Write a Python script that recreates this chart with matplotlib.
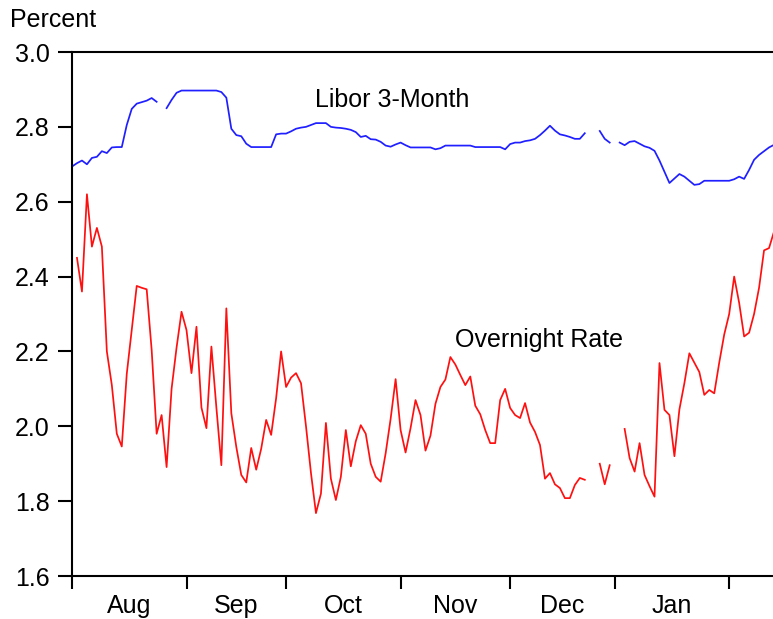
import numpy as np
import pandas as pd
import matplotlib
matplotlib.use("Agg")
import matplotlib.pyplot as plt

plt.rcParams['font.family'] = ['Liberation Sans', 'DejaVu Sans']

nan = np.nan

# one value per weekday starting 2007-08-01
overnight = [
    nan, 2.45, 2.36, 2.62, 2.48, 2.53, 2.48, 2.20, 2.11, 1.98,
    1.946, 2.14, 2.257, 2.375, 2.37, 2.366, 2.204, 1.98, 2.03, 1.891,
    2.10, 2.21, 2.306, 2.257, 2.142, 2.266, 2.05, 1.995, 2.213, 2.05,
    1.896, 2.315, 2.035, 1.945, 1.87, 1.85, 1.942, 1.884, 1.94, 2.017,
    1.977, 2.075, 2.20, 2.105, 2.13, 2.142, 2.115, 2.0, 1.875, 1.768,
    1.82, 2.009, 1.86, 1.803, 1.865, 1.99, 1.893, 1.96, 2.003, 1.98,
    1.90, 1.865, 1.852, 1.928, 2.02, 2.126, 1.99, 1.93, 1.995, 2.07,
    2.03, 1.935, 1.975, 2.06, 2.105, 2.125, 2.185, 2.165, 2.137, 2.11,
    2.133, 2.055, 2.032, 1.99, 1.955, 1.955, 2.07, 2.10, 2.049, 2.03,
    2.022, 2.062, 2.01, 1.985, 1.95, 1.86, 1.875, 1.845, 1.835, 1.808,
    1.808, 1.843, 1.862, 1.857, nan, nan, 1.90, 1.845, 1.896, nan,
    nan, 1.993, 1.915, 1.879, 1.955, 1.87, 1.84, 1.812, 2.169, 2.044,
    2.03, 1.92, 2.045, 2.115, 2.195, 2.17, 2.145, 2.084, 2.097, 2.088,
    2.17, 2.245, 2.30, 2.40, 2.33, 2.24, 2.25, 2.30, 2.37, 2.47,
    2.476, 2.52,
]

libor = [
    2.694, 2.703, 2.71, 2.70, 2.717, 2.72, 2.735, 2.73, 2.745, 2.746,
    2.746, 2.805, 2.848, 2.862, 2.866, 2.87, 2.877, 2.867, nan, 2.85,
    2.872, 2.891, 2.897, 2.897, 2.897, 2.897, 2.897, 2.897, 2.897, 2.897,
    2.893, 2.878, 2.795, 2.778, 2.775, 2.755, 2.746, 2.746, 2.746, 2.746,
    2.746, 2.78, 2.782, 2.782, 2.788, 2.795, 2.798, 2.80, 2.805, 2.81,
    2.81, 2.81, 2.80, 2.798, 2.797, 2.795, 2.792, 2.786, 2.773, 2.776,
    2.767, 2.766, 2.76, 2.75, 2.747, 2.753, 2.758, 2.751, 2.745, 2.745,
    2.745, 2.745, 2.745, 2.74, 2.743, 2.75, 2.75, 2.75, 2.75, 2.75,
    2.75, 2.746, 2.746, 2.746, 2.746, 2.746, 2.746, 2.74, 2.754, 2.758,
    2.758, 2.762, 2.764, 2.768, 2.778, 2.79, 2.803, 2.79, 2.78, 2.777,
    2.773, 2.768, 2.768, 2.783, nan, nan, 2.789, 2.768, 2.758, nan,
    2.758, 2.751, 2.76, 2.762, 2.755, 2.748, 2.744, 2.736, 2.71, 2.68,
    2.65, 2.662, 2.674, 2.667, 2.656, 2.645, 2.647, 2.656, 2.656, 2.656,
    2.656, 2.656, 2.656, 2.66, 2.667, 2.661, 2.685, 2.712, 2.725, 2.735,
    2.745, 2.752,
]

dates = pd.bdate_range('2007-08-01', periods=len(libor))
x = np.arange(len(dates))

# month boundaries (first weekday of each month)
month_start = [i for i in range(len(dates)) if i == 0 or dates[i].month != dates[i - 1].month]
month_names = [dates[i].strftime('%b') for i in month_start]

fs = 18

fig = plt.figure(figsize=(7.73, 6.19), dpi=100)
ax = fig.add_axes([72 / 773, 43 / 619, 701 / 773, 524 / 619])

ax.plot(x, libor, color='#1f1fff', lw=1.25)
ax.plot(x, overnight, color='#ff1010', lw=1.25)

ax.set_xlim(0, 140.8)
ax.set_ylim(1.6, 3.0)
ax.set_yticks(np.arange(1.6, 3.01, 0.2))
ax.set_yticklabels(['%.1f' % v for v in np.arange(1.6, 3.01, 0.2)])

ax.set_xticks(month_start)
ax.set_xticklabels([])
mids = [(month_start[k] + month_start[k + 1]) / 2 for k in range(len(month_start) - 1)]
ax.set_xticks(mids, minor=True)
ax.set_xticklabels(month_names[:-1], minor=True)

ax.tick_params(axis='y', direction='out', length=10, width=1.5, pad=6, labelsize=fs)
ax.tick_params(axis='x', which='major', direction='out', length=9, width=1.5)
ax.tick_params(axis='x', which='minor', length=0, pad=13, labelsize=fs)

for s in ['left', 'bottom', 'top']:
    ax.spines[s].set_linewidth(1.5)
ax.spines['right'].set_visible(False)

ax.text(48.8, 2.872, 'Libor 3-Month', fontsize=fs, va='center', ha='left')
ax.text(76.9, 2.23, 'Overnight Rate', fontsize=fs, va='center', ha='left')
fig.text(10 / 773, 1 - 20 / 619, 'Percent', fontsize=fs, va='center', ha='left')

fig.savefig('out.png', dpi=100)
